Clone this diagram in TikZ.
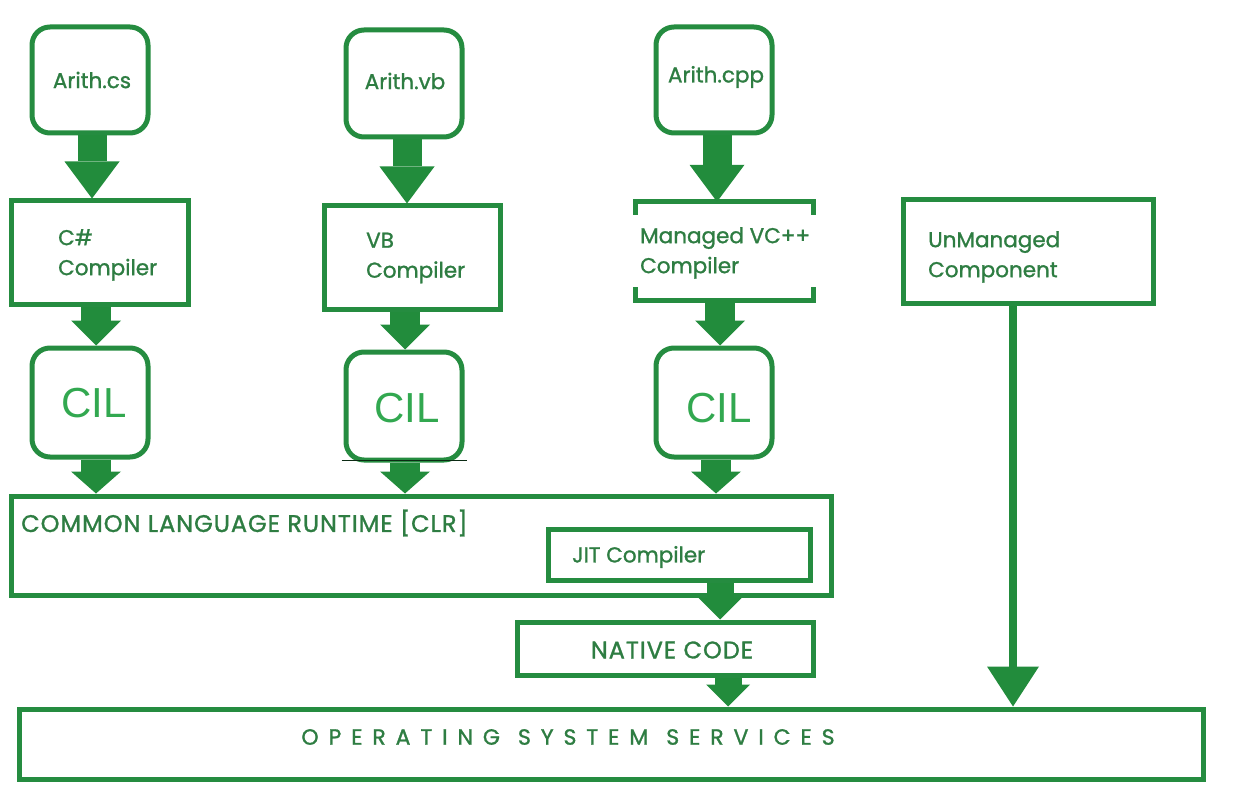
\documentclass[tikz,border=0pt]{standalone}
\usepackage{fontspec}
\setmainfont{Poppins}[FakeBold=1.2]
\newfontfamily\cilfont{Liberation Sans}
\newfontfamily\osfont{Poppins}[LetterSpace=45,FakeBold=1.2]
\newfontfamily\capsfont{Poppins}[LetterSpace=4,FakeBold=1.2]
\usetikzlibrary{arrows.meta}
\definecolor{boxgreen}{RGB}{37,140,64}
\definecolor{txtgreen}{RGB}{46,125,66}
\definecolor{cilgreen}{RGB}{50,168,80}
\definecolor{arrgreen}{RGB}{34,140,60}
\begin{document}
\begin{tikzpicture}[x=1pt,y=-1pt,
  box/.style={draw=boxgreen,line width=5pt,minimum width=#1,inner sep=0pt,fill=none},
  rbox/.style={draw=boxgreen,line width=5pt,rounded corners=18pt,minimum width=116pt,inner sep=0pt},
  lbl/.style={text=txtgreen,font=\fontsize{21.5}{30}\selectfont,align=left,anchor=west,inner sep=0pt},
  clbl/.style={text=txtgreen,font=\fontsize{21.5}{30}\selectfont,inner sep=0pt},
  capslbl/.style={text=txtgreen,font=\capsfont\fontsize{24}{30}\selectfont,inner sep=0pt},
  ciltxt/.style={text=cilgreen,font=\cilfont\fontsize{42}{42}\selectfont,inner sep=0pt},
  fatA/.style={draw=arrgreen,line width=29pt,-{Triangle[width=55pt,length=37pt,line width=0pt,fill=arrgreen]}},
  fatB/.style={draw=arrgreen,line width=30pt,-{Triangle[width=50pt,length=25pt,line width=0pt,fill=arrgreen]}},
  fatC/.style={draw=arrgreen,line width=30pt,-{Triangle[width=50pt,length=22pt,line width=0pt,fill=arrgreen]}},
  fatD/.style={draw=arrgreen,line width=27pt,-{Triangle[width=44pt,length=22pt,line width=0pt,fill=arrgreen]}},
  thinarr/.style={draw=arrgreen,line width=8pt,-{Triangle[width=52pt,length=40pt,line width=0pt,fill=arrgreen]}}
]
\useasboundingbox[fill=white] (0,0) rectangle (1249,791);

% source files
\node[rbox,minimum height=106pt] (a1) at (90,80) {};
\node[clbl] (a1t) at (92,80) {Arith.cs};
\node[rbox,minimum height=107pt] (a2) at (404,83.5) {};
\node[clbl] (a2t) at (405,81) {Arith.vb};
\node[rbox,minimum height=106pt] (a3) at (714,80) {};
\node[clbl] (a3t) at (716,77) {Arith.cpp};

% compilers
\node[box=177pt,minimum height=104pt] (c1) at (99.5,253) {};
\node[lbl] (c1t) at (58,255) {C\#\\Compiler};
\node[box=176pt,minimum height=104pt] (c2) at (412,258) {};
\node[lbl] (c2t) at (366,258) {VB\\Compiler};
\node[minimum width=177pt,minimum height=98pt,inner sep=0pt] (c3) at (724.5,251) {};
\draw[boxgreen,line width=5pt] ([yshift=-13pt]c3.north west) -- (c3.north west) -- (c3.north east) -- ([yshift=-13pt]c3.north east);
\draw[boxgreen,line width=5pt] ([yshift=13pt]c3.south west) -- (c3.south west) -- (c3.south east) -- ([yshift=13pt]c3.south east);
\node[lbl] (c3t) at (640,253) {Managed VC++\\Compiler};
\node[box=250pt,minimum height=104pt] (u) at (1028,252) {};
\node[lbl] (ut) at (928,257) {UnManaged\\Component};

% CIL
\node[rbox,minimum height=109pt] (cil1) at (90,402.5) {};
\node[ciltxt] (cil1t) at (94,403) {CIL};
\node[rbox,minimum height=108pt] (cil2) at (404,406) {};
\node[ciltxt] (cil2t) at (407,408) {CIL};
\draw[black!70!boxgreen,line width=1.5pt] ([xshift=-2pt,yshift=2pt]cil2.south west) -- ([xshift=2pt,yshift=2pt]cil2.south east);
\node[rbox,minimum height=109pt] (cil3) at (714,402.5) {};
\node[ciltxt] (cil3t) at (719,408) {CIL};

% CLR
\node[box=820pt,minimum height=99pt] (clr) at (421,545.5) {};
\node[capslbl,anchor=west] (clrt) at (21,523) {COMMON LANGUAGE RUNTIME [CLR]};
\node[box=262pt,minimum height=51pt] (jit) at (679,554.5) {};
\node[lbl] (jitt) at (572,557) {JIT Compiler};
\node[box=296pt,minimum height=53pt] (nat) at (665,648.5) {};
\node[capslbl] (natt) at (672,650) {NATIVE CODE};

% OS
\node[box=1184pt,minimum height=70pt] (os) at (611,744) {};
\node[text=txtgreen,font=\osfont\fontsize{22}{26}\selectfont,inner sep=0pt] (ost) at (568,737) {OPERATING\hspace{18pt}SYSTEM\hspace{18pt}SERVICES};

% arrows
\draw[fatA] ([xshift=2pt]a1.south) -- ([xshift=2pt]a1.south |- c1.north);
\draw[fatA] ([xshift=3pt]a2.south) -- ([xshift=3pt]a2.south |- c2.north);
\draw[fatA] ([xshift=3pt]a3.south) -- ([xshift=3pt]a3.south |- c3.north);

\draw[fatB] ([xshift=6pt]cil1.north |- c1.south) -- ([xshift=6pt]cil1.north);
\draw[fatB] ([xshift=1pt]cil2.north |- c2.south) -- ([xshift=1pt]cil2.north);
\draw[fatB] ([xshift=6pt]cil3.north |- c3.south) -- ([xshift=6pt]cil3.north);

\draw[fatC] ([xshift=6pt]cil1.south) -- ([xshift=6pt]cil1.south |- clr.north);
\draw[fatC] ([xshift=1pt]cil2.south) -- ([xshift=1pt]cil2.south |- clr.north);
\draw[fatC] ([xshift=2pt]cil3.south) -- ([xshift=2pt]cil3.south |- clr.north);

\draw[fatD] ([xshift=41pt]jit.south) -- ([xshift=41pt]jit.south |- nat.north);
\draw[fatD] ([xshift=63pt]nat.south) -- ([xshift=63pt]nat.south |- os.north);

\draw[thinarr] ([xshift=-15pt]u.south) -- ([xshift=-15pt]u.south |- os.north);
\end{tikzpicture}
\end{document}
